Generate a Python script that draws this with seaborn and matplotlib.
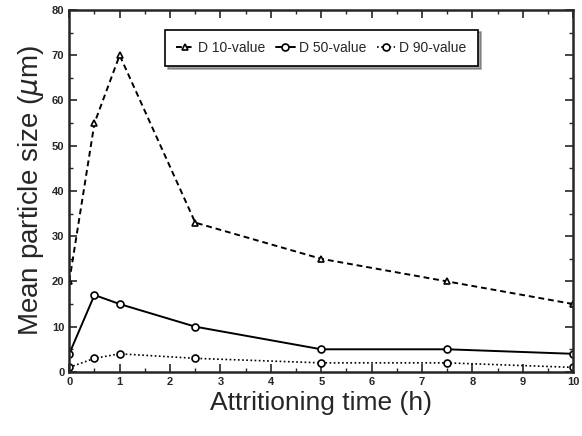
import numpy as np
import pandas as pd
import matplotlib
matplotlib.use("Agg")
import matplotlib.pyplot as plt
import seaborn as sns
from matplotlib.ticker import MultipleLocator

sns.set_style("ticks")
plt.rcParams["font.family"] = ["Liberation Sans", "DejaVu Sans"]

time_h = [0, 0.5, 1, 2.5, 5, 7.5, 10]
d10 = [20, 55, 70, 33, 25, 20, 15]
d50 = [4, 17, 15, 10, 5, 5, 4]
d90 = [1, 3, 4, 3, 2, 2, 1]
series_names = ["D 10-value", "D 50-value", "D 90-value"]

df = pd.DataFrame({
    "time": time_h * 3,
    "size": d10 + d50 + d90,
    "series": np.repeat(series_names, len(time_h)),
})

fig = plt.figure(figsize=(5.82, 4.36), dpi=100)
ax = fig.add_axes([0.119, 0.147, 0.866, 0.830])

styles = {
    "D 10-value": dict(ls=(0, (3, 2)), marker="^", lw=1.4),
    "D 50-value": dict(ls="-", marker="o", lw=1.4),
    "D 90-value": dict(ls=(0, (1, 1.5)), marker="o", lw=1.2),
}
for name in series_names:
    sub = df[df["series"] == name]
    st = styles[name]
    sns.lineplot(data=sub, x="time", y="size", ax=ax, color="black",
                 linestyle=st["ls"], marker=st["marker"], markersize=5,
                 markerfacecolor="white", markeredgecolor="black",
                 markeredgewidth=1.2, linewidth=st["lw"], label=name)

ax.set_xlim(0, 10)
ax.set_ylim(0, 80)
ax.xaxis.set_major_locator(MultipleLocator(1))
ax.xaxis.set_minor_locator(MultipleLocator(0.5))
ax.yaxis.set_major_locator(MultipleLocator(10))
ax.yaxis.set_minor_locator(MultipleLocator(5))
ax.tick_params(which="both", direction="in", top=True, right=True)
ax.tick_params(which="major", length=6, width=1.2, labelsize=8)
ax.tick_params(which="minor", length=3, width=1)
for lab in ax.get_xticklabels() + ax.get_yticklabels():
    lab.set_fontweight("bold")
for sp in ax.spines.values():
    sp.set_linewidth(1.8)

ax.set_xlabel("Attritioning time (h)", fontsize=19, labelpad=3)
ax.set_ylabel("Mean particle size ($\\mu$m)", fontsize=20, labelpad=4)

leg = ax.legend(loc="upper center", bbox_to_anchor=(0.5, 0.965), ncol=3,
                frameon=True, fancybox=False, shadow=True, fontsize=10,
                handlelength=1.3, columnspacing=0.8, handletextpad=0.3,
                borderpad=0.8)
leg.get_frame().set_edgecolor("black")
leg.get_frame().set_linewidth(1.2)

fig.savefig("out.png", dpi=100)
